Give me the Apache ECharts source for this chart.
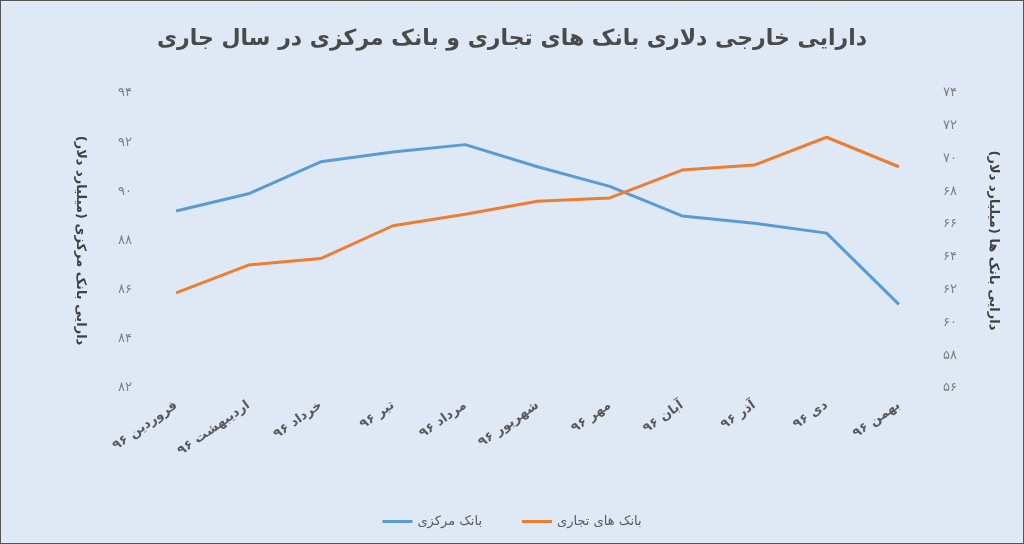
<!DOCTYPE html><html><head><meta charset="utf-8">
<script src="https://cdn.jsdelivr.net/npm/echarts@6/dist/echarts.min.js"></script>
<style>html,body{margin:0;padding:0;background:#fff}#c{width:1024px;height:544px;box-sizing:border-box;border:1px solid #555}</style>
</head><body><div id="c"></div><script>
const categories=['فروردین ۹۶','اردیبهشت ۹۶','خرداد ۹۶','تیر ۹۶','مرداد ۹۶','شهریور ۹۶','مهر ۹۶','آبان ۹۶','آذر ۹۶','دی ۹۶','بهمن ۹۶'];
const centralBank=[89.2,89.9,91.2,91.6,91.9,91.0,90.2,89.0,88.7,88.3,85.4];
const commercialBanks=[61.8,63.5,63.9,65.9,66.6,67.4,67.6,69.3,69.6,71.3,69.5];
const fa=n=>String(n).replace(/\d/g,d=>'۰۱۲۳۴۵۶۷۸۹'[d]);
const font='DejaVu Sans';
const chart=echarts.init(document.getElementById('c'));
chart.setOption({
 backgroundColor:'#dfe9f5',
 textStyle:{fontFamily:font},
 title:{text:'دارایی خارجی دلاری بانک های تجاری و بانک مرکزی در سال جاری',left:'center',top:22,textStyle:{fontSize:22,fontWeight:'bold',color:'#4a4a4a',fontFamily:font}},
 legend:{bottom:10,itemGap:40,textStyle:{color:'#595959',fontSize:13},icon:'path://M0,0H30V3H0Z',itemWidth:30,itemHeight:3,data:['بانک مرکزی','بانک های تجاری']},
 grid:{left:139,right:88,top:92,bottom:155},
 xAxis:{type:'category',data:categories,axisLine:{show:false},axisTick:{show:false},
   axisLabel:{rotate:35,color:'#595959',fontSize:13,fontWeight:'bold',margin:16}},
 yAxis:[
  {type:'value',min:82,max:94,interval:2,splitLine:{show:false},
   name:'دارایی بانک مرکزی (میلیارد دلار)',nameLocation:'middle',nameGap:53,nameRotate:-90,
   nameTextStyle:{color:'#404040',fontSize:13,fontWeight:'bold'},
   axisLabel:{color:'#7f7f7f',fontSize:13,formatter:v=>fa(v)}},
  {type:'value',min:56,max:74,interval:2,splitLine:{show:false},
   name:'دارایی بانک ها (میلیارد دلار)',nameLocation:'middle',nameGap:52,nameRotate:-90,
   nameTextStyle:{color:'#404040',fontSize:13,fontWeight:'bold'},
   axisLabel:{color:'#7f7f7f',fontSize:13,formatter:v=>fa(v)}}
 ],
 series:[
  {name:'بانک مرکزی',type:'line',yAxisIndex:0,data:centralBank,symbol:'none',lineStyle:{color:'#5b9bd5',width:3},itemStyle:{color:'#5b9bd5'}},
  {name:'بانک های تجاری',type:'line',yAxisIndex:1,data:commercialBanks,symbol:'none',lineStyle:{color:'#ed7d31',width:3},itemStyle:{color:'#ed7d31'}}
 ]
});
</script></body></html>
